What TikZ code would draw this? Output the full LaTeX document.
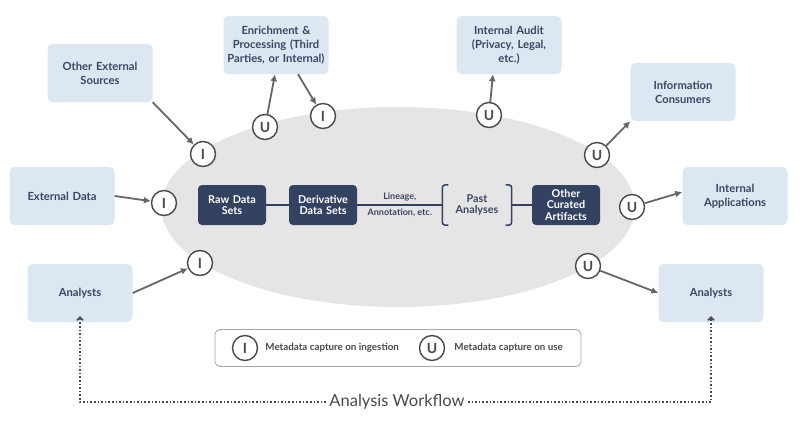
\documentclass[tikz,border=0pt]{standalone}
\usepackage{fontspec}
\setmainfont{Lato}
\usetikzlibrary{arrows.meta,positioning}
\definecolor{boxblue}{HTML}{DDE7F1}
\definecolor{navy}{HTML}{344261}
\definecolor{textblue}{HTML}{3A4663}
\definecolor{arrowgray}{HTML}{666666}
\definecolor{ellgray}{HTML}{E5E5E5}
\definecolor{markgray}{HTML}{4A4A4A}
\tikzset{
  party/.style={fill=boxblue,rounded corners=5pt,minimum width=105pt,minimum height=58pt,
    inner sep=0pt,text width=100pt,align=center,text=textblue,font=\bfseries\fontsize{11.2}{14}\selectfont},
  dataset/.style={fill=navy,rounded corners=4pt,minimum width=68pt,minimum height=40pt,
    inner sep=0pt,text width=66pt,align=center,text=white,font=\bfseries\fontsize{10.8}{11.5}\selectfont},
  capture/.style={circle,draw=markgray,line width=1.4pt,fill=white,minimum size=25pt,inner sep=0pt,
    text=markgray,font=\bfseries\fontsize{14}{14}\selectfont},
  flow/.style={arrowgray,line width=1.8pt,-{Latex[length=7pt,width=7pt]}},
  chain/.style={navy,line width=1.5pt},
  workflow/.style={markgray,line width=1.6pt,dotted,-{Straight Barb[length=3pt,width=6pt]}}
}
\begin{document}
\begin{tikzpicture}[x=1pt,y=-1pt]
\useasboundingbox (0,0) rectangle (800,429);

% the analysis environment
\fill [ellgray] (398,207) ellipse [x radius=237, y radius=100];

% outside parties
\node [party] (othersrc) at (100,73) {Other External\\Sources};
\node [party] (enrich) at (276,45) {Enrichment \&\\Processing (Third\\Parties, or Internal)};
\node [party] (extdata) at (62,196) {External Data};
\node [party] (analystsL) at (80,293) {Analysts};
\node [party] (audit) at (509,45) {Internal Audit\\(Privacy, Legal,\\etc.)};
\node [party] (consumers) at (683,92) {Information\\Consumers};
\node [party] (intapps) at (735,196) {Internal\\Applications};
\node [party] (analystsR) at (711,293) {Analysts};

% data sets
\node [dataset] (raw) at (232,205) {Raw Data\\Sets};
\node [dataset] (deriv) at (323,205) {Derivative\\Data Sets};
\node [minimum width=69pt,minimum height=40pt,inner sep=0pt,align=center,text=textblue,
  font=\bfseries\fontsize{10.8}{11.5}\selectfont] (past) at (477,205) {Past\\Analyses};
\node [dataset] (curated) at (566,205) {Other\\Curated\\Artifacts};
\draw [chain,rounded corners=3pt] ([xshift=6pt]past.north west) -- (past.north west) -- (past.south west) -- ([xshift=6pt]past.south west);
\draw [chain,rounded corners=3pt] ([xshift=-6pt]past.north east) -- (past.north east) -- (past.south east) -- ([xshift=-6pt]past.south east);
\draw [chain] (raw) -- (deriv);
\draw [chain] (deriv) -- node[above=0pt,text=textblue,font=\bfseries\fontsize{9}{9}\selectfont]{Lineage,}
  node[below=0pt,text=textblue,font=\bfseries\fontsize{9}{9}\selectfont]{Annotation, etc.} (past);
\draw [chain] (past) -- (curated);

% capture points
\node [capture] (iother) at (203,154) {I};
\node [capture] (uenrich) at (265,127) {U};
\node [capture] (ienrich) at (323,116) {I};
\node [capture] (iext) at (164,203) {I};
\node [capture] (ianalyst) at (200,263) {I};
\node [capture] (uaudit) at (489,115) {U};
\node [capture] (uconsumer) at (597,155) {U};
\node [capture] (uapps) at (632,207) {U};
\node [capture] (uanalyst) at (588,266) {U};

\draw [flow] (othersrc.south east) -- (iother);
\draw [flow] (uenrich) -- ([xshift=-1pt]enrich.south);
\draw [flow] ([xshift=22pt]enrich.south) -- (ienrich);
\draw [flow] (extdata.east) -- (iext);
\draw [flow] (analystsL.east) -- (ianalyst);
\draw [flow] (uaudit) -- ([xshift=-16pt]audit.south);
\draw [flow] (uconsumer) -- (consumers.south west);
\draw [flow] (uapps) -- ([yshift=4pt]intapps.west);
\draw [flow] (uanalyst) -- (analystsR.west);

% legend
\node [draw=gray!70,line width=0.8pt,fill=white,rounded corners=5pt,minimum width=366pt,minimum height=37pt] (legend) at (398,348) {};
\node [capture] (legi) at (245,348) {I};
\node [right=7pt of legi,inner sep=0pt,text=markgray,font=\bfseries\fontsize{9.8}{9.8}\selectfont] (legitext) {Metadata capture on ingestion};
\node [capture] (legu) at (432,348) {U};
\node [right=9pt of legu,inner sep=0pt,text=markgray,font=\bfseries\fontsize{9.8}{9.8}\selectfont] (legutext) {Metadata capture on use};

% workflow
\node [text=markgray,font=\fontsize{16.5}{16.5}\selectfont] (wf) at (397,402) {Analysis Workflow};
\draw [workflow] (wf.west) -| ([yshift=6pt]analystsL.south);
\draw [workflow] (wf.east) -| ([yshift=6pt]analystsR.south);

\end{tikzpicture}
\end{document}
